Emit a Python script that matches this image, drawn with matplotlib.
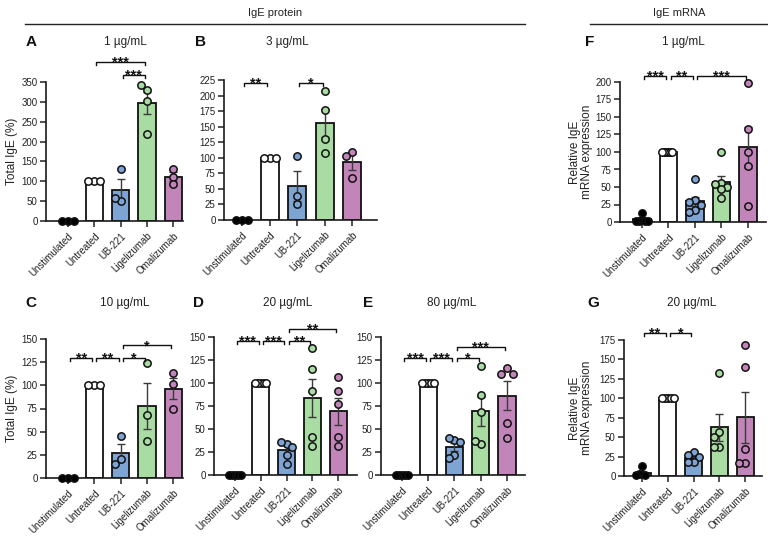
import numpy as np
import matplotlib
matplotlib.use("Agg")
import matplotlib.pyplot as plt

plt.rcParams['font.family'] = ['Liberation Sans', 'DejaVu Sans']

W, H = 768, 541

# ---------------- data ----------------
categories = ["Unstimulated", "Untreated", "UB-221", "Ligelizumab", "Omalizumab"]
group_colors = ["#000000", "#ffffff", "#7ea4d4", "#a8dca2", "#c285b9"]

# Panel A: IgE protein, 1 ug/mL
A_vals = [[0, 0, 0], [100, 100, 100], [130, 50, 57], [330, 342, 302, 218], [130, 112, 92]]
A_sigs = [(1, 3, 400, "***"), (2, 3, 368, "***")]
# Panel B: 3 ug/mL
B_vals = [[0, 0, 0], [100, 100, 100], [103, 38, 25], [207, 177, 130, 108], [110, 103, 67]]
B_sigs = [(0, 1, 220, "**"), (2, 3, 220, "*")]
# Panel C: 10 ug/mL
C_vals = [[0, 0, 0], [100, 100, 100], [45, 21, 15], [124, 68, 40], [113, 101, 75]]
C_sigs = [(0, 1, 130, "**"), (1, 2, 130, "**"), (2, 3, 130, "*"), (2, 4, 143, "*")]
# Panel D: 20 ug/mL
D_vals = [[0, 0, 0, 0, 0], [100, 100, 100, 100, 100], [34, 36, 30, 22, 12],
          [138, 115, 91, 41, 32], [106, 91, 77, 41, 31]]
D_sigs = [(0, 1, 146, "***"), (1, 2, 146, "***"), (2, 3, 146, "**"), (2, 4, 159, "**")]
# Panel E: 80 ug/mL
E_vals = [[0, 0, 0, 0, 0], [100, 100, 100, 100, 100], [38, 40, 36, 22, 18],
          [119, 87, 69, 34, 37], [116, 110, 110, 56, 40]]
E_sigs = [(0, 1, 127, "***"), (1, 2, 127, "***"), (2, 3, 127, "*"), (2, 4, 139, "***")]
# Panel F: IgE mRNA, 1 ug/mL
F_vals = [[13, 3, 2, 2, 1, 1], [100, 100, 100, 100, 100, 100], [61, 31, 28, 24, 17, 15],
          [100, 56, 54, 50, 47, 35], [198, 133, 100, 80, 23]]
F_sigs = [(0, 1, 209, "***"), (1, 2, 209, "**"), (2, 4, 209, "***")]
# Panel G: IgE mRNA, 20 ug/mL
G_vals = [[13, 3, 2, 1, 1], [100, 100, 100, 100, 100], [31, 27, 25, 18, 18],
          [132, 57, 50, 37, 37], [168, 140, 35, 17, 17]]
G_sigs = [(0, 1, 184, "**"), (1, 2, 184, "*")]

# ---------------- drawing ----------------
fig = plt.figure(figsize=(W / 100, H / 100), dpi=100)
BAR_W = 0.66
MARK_D = 7.5  # px


def px_rect(left, right, top, bottom):
    return [left / W, 1 - bottom / H, (right - left) / W, (bottom - top) / H]


def swarm_offsets(values, ppy, bar_w_px):
    placed = []
    offs = []
    step = 0.8 * MARK_D
    for v in values:
        y = v * ppy
        cands = [0]
        for n in range(1, 8):
            cands += [-n * step, n * step]
        for c in cands:
            ok = all(np.hypot(c - px, y - py) >= step * 0.99 for px, py in placed)
            if ok:
                break
        placed.append((c, y))
        offs.append(c)
    offs = np.array(offs)
    lim = (bar_w_px - MARK_D) / 2 + 1
    m = np.abs(offs).max()
    if m > lim:
        offs = offs * lim / m
    return offs


def panel(rect, xlim, ymax, ystep, groups, sigs):
    ax = fig.add_axes(px_rect(*rect))
    ax.set_xlim(*xlim)
    ax.set_ylim(0, ymax)
    for s in ["top", "right"]:
        ax.spines[s].set_visible(False)
    for s in ["left", "bottom"]:
        ax.spines[s].set_linewidth(1.2)
        ax.spines[s].set_color("#1a1a1a")
    wpx = rect[1] - rect[0]
    hpx = rect[3] - rect[2]
    ppx = wpx / (xlim[1] - xlim[0])
    ppy = hpx / ymax
    for i, vals in enumerate(groups):
        v = np.array(vals, dtype=float)
        mean = v.mean()
        sem = v.std(ddof=1) / np.sqrt(len(v))
        ax.bar(i, mean, width=BAR_W, color=group_colors[i] if i else "#ffffff",
               edgecolor="#111111", linewidth=1.3, zorder=2)
        if sem > 0.5 and i >= 2:
            ax.errorbar(i, mean, yerr=sem, color="#3a3a3a", lw=1.0, capsize=3.0,
                        capthick=1.0, zorder=3)
        offs = swarm_offsets(v, ppy, BAR_W * ppx) / ppx
        ax.scatter(i + offs, v, s=28, c=group_colors[i], edgecolors="#111111",
                   linewidths=1.1, zorder=4, clip_on=False)
    ax.set_yticks(np.arange(0, ymax + 1, ystep))
    ax.set_xticks(range(len(categories)))
    ax.set_xticklabels(categories, rotation=45, ha="right", rotation_mode="anchor",
                       fontsize=7, color="#222222")
    ax.tick_params(axis="y", labelsize=7, length=4, width=1.1, colors="#222222", pad=2)
    ax.tick_params(axis="x", length=4, width=1.1, colors="#222222", pad=3)
    tick = 3.0 / ppy
    for (i, j, y, stars) in sigs:
        x0 = i + 0.08
        x1 = j - 0.08
        ax.plot([x0, x0, x1, x1], [y - tick, y, y, y - tick], color="#111111", lw=1.0,
                clip_on=False, zorder=5)
        ax.text((x0 + x1) / 2, y - 4.5 / ppy, stars, ha="center", va="baseline",
                fontsize=10.5, fontweight="bold", color="#111111", clip_on=False)
    return ax


def ftext(x, y, s, **kw):
    fig.text(x / W, 1 - y / H, s, **kw)


panels = [
    ((46, 183, 82, 221), (-0.84, 4.37), 350, 50, A_vals, A_sigs, "A", (31, 42), "1 µg/mL", (125, 42)),
    ((224, 377, 80, 220), (-0.66, 4.9), 225, 25, B_vals, B_sigs, "B", (200, 42), "3 µg/mL", (287, 42)),
    ((620, 766, 82, 222), (-0.83, 4.68), 200, 25, F_vals, F_sigs, "F", (590, 42), "1 µg/mL", (683, 42)),
    ((46, 183, 339, 478), (-0.84, 4.37), 150, 25, C_vals, C_sigs, "C", (31, 303), "10 µg/mL", (125, 303)),
    ((214, 357, 337, 475), (-0.81, 4.73), 150, 25, D_vals, D_sigs, "D", (198, 303), "20 µg/mL", (288, 303)),
    ((381, 525, 337, 475), (-0.8, 4.69), 150, 25, E_vals, E_sigs, "E", (368, 303), "80 µg/mL", (452, 303)),
    ((624, 762, 340, 476), (-0.7, 4.66), 175, 25, G_vals, G_sigs, "G", (593, 303), "20 µg/mL", (692, 303)),
]

for rect, xl, ymax, ystep, vals, sigs, letter, lxy, title, txy in panels:
    panel(rect, xl, ymax, ystep, vals, sigs)
    ftext(*lxy, letter, ha="center", va="center", fontsize=11, fontweight="bold", color="#111111")
    ftext(*txy, title, ha="center", va="center", fontsize=8.5, color="#222222")

# y labels
ftext(12, 151, "Total IgE (%)", rotation=90, ha="center", va="center", fontsize=8.5, color="#222222")
ftext(12, 408, "Total IgE (%)", rotation=90, ha="center", va="center", fontsize=8.5, color="#222222")
ftext(581, 152, "Relative IgE\nmRNA expression", rotation=90, ha="center", va="center",
      fontsize=8.5, color="#222222", linespacing=1.0)
ftext(581, 408, "Relative IgE\nmRNA expression", rotation=90, ha="center", va="center",
      fontsize=8.5, color="#222222", linespacing=1.0)

# section headers
ftext(275, 13, "IgE protein", ha="center", va="center", fontsize=8, color="#222222")
ftext(679, 13, "IgE mRNA", ha="center", va="center", fontsize=8, color="#222222")
fig.add_artist(plt.Line2D([25 / W, 525 / W], [1 - 23.5 / H, 1 - 23.5 / H], color="#222222", lw=1.0))
fig.add_artist(plt.Line2D([590 / W, 768 / W], [1 - 23.5 / H, 1 - 23.5 / H], color="#222222", lw=1.0))

fig.savefig("out.png", dpi=100)
